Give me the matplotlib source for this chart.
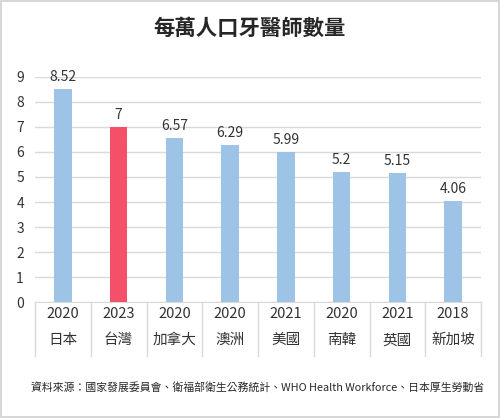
import matplotlib
matplotlib.use("Agg")
import matplotlib.pyplot as plt
from matplotlib.patches import Rectangle

plt.rcParams['font.family'] = ['Noto Sans CJK TC', 'DejaVu Sans']

# ======================
# DATA
# ======================
countries = ["日本", "台灣", "加拿大", "澳洲", "美國", "南韓", "英國", "新加坡"]
years = ["2020", "2023", "2020", "2020", "2021", "2020", "2021", "2018"]
values = [8.52, 7, 6.57, 6.29, 5.99, 5.2, 5.15, 4.06]
value_labels = ["8.52", "7", "6.57", "6.29", "5.99", "5.2", "5.15", "4.06"]
highlight = "台灣"

BLUE = "#9DC3E6"
RED = "#F4506A"
GRID = "#D9D9D9"

fig = plt.figure(figsize=(5, 4.18), dpi=100)
fig.patches.append(Rectangle((0.002, 0.002), 0.996, 0.996, transform=fig.transFigure,
                             fill=False, edgecolor="#D0D0D0", linewidth=1.2))

ax = fig.add_axes([0.07, 0.2775, 0.892, 0.5383])
x = list(range(len(countries)))
colors = [RED if c == highlight else BLUE for c in countries]
ax.bar(x, values, width=0.31, color=colors, zorder=3)

for xi, v, lab in zip(x, values, value_labels):
    ax.text(xi, v + 0.2, lab, ha="center", va="bottom", fontsize=10, color="#333333")

ax.set_xlim(-0.5, len(countries) - 0.5)
ax.set_ylim(0, 9)
ax.set_yticks(range(0, 10))
ax.tick_params(axis="y", length=0, labelsize=10, pad=8, colors="#333333")
ax.set_xticks([])
ax.grid(axis="y", color=GRID, linewidth=1, zorder=0)
for s in ["top", "right", "left"]:
    ax.spines[s].set_visible(False)
ax.spines["bottom"].set_color(GRID)

# category labels and separators below the axis
trans = ax.get_xaxis_transform()
for xi, (yr, c) in enumerate(zip(years, countries)):
    ax.text(xi, -0.055, yr, transform=trans, ha="center", va="center",
            fontsize=10.5, color="#333333")
    ax.text(xi, -0.17, c, transform=trans, ha="center", va="center",
            fontsize=10.5, color="#333333")
for b in [i - 0.5 for i in range(len(countries) + 1)]:
    ax.plot([b, b], [0, -0.24], transform=trans, color=GRID, linewidth=1, clip_on=False)

fig.text(0.5, 0.932, "每萬人口牙醫師數量", ha="center", va="center",
         fontsize=15.4, fontweight="bold", color="#262626")
fig.text(0.515, 0.074, "資料來源：國家發展委員會、衛福部衛生公務統計、WHO Health Workforce、日本厚生勞動省",
         ha="center", va="center", fontsize=7.8, color="#262626")

fig.savefig("out.png", dpi=100)
